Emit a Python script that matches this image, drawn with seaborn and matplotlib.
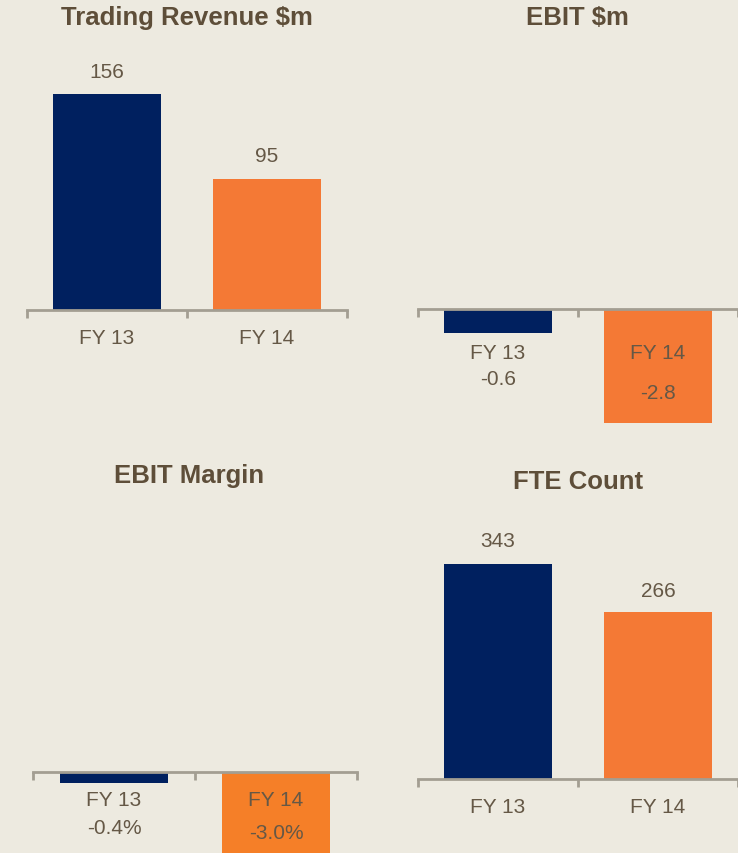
import matplotlib
matplotlib.use("Agg")
import matplotlib.pyplot as plt
import seaborn as sns
import pandas as pd

# ---- data ----
categories = ["FY 13", "FY 14"]
trading_revenue = [156, 95]
ebit = [-0.6, -2.8]
ebit_margin = [-0.4, -3.0]
fte_count = [343, 266]
revenue_labels = ["156", "95"]
ebit_labels = ["-0.6", "-2.8"]
margin_labels = ["-0.4%", "-3.0%"]
fte_labels = ["343", "266"]
titles = ["Trading Revenue $m", "EBIT $m", "EBIT Margin", "FTE Count"]

# ---- style ----
BG = "#EDEAE0"
NAVY = "#00205F"
ORANGE = "#F47935"
ORANGE2 = "#F57F28"
TITLE_C = "#5E4E39"
TEXT_C = "#655846"
AXIS_C = "#A39E92"
W, H = 738, 854

sns.set_theme(style="white")
plt.rcParams["font.family"] = ["Liberation Sans", "DejaVu Sans"]

fig = plt.figure(figsize=(W / 100, H / 100), dpi=100, facecolor=BG)


def panel(vals, labels, title, left, right, top, bottom, zero_px, scale,
          title_xy, label_offsets, tick_pad_px, colors, label_family=None):
    ax = fig.add_axes([left / W, 1 - bottom / H, (right - left) / W, (bottom - top) / H])
    ax.set_facecolor("none")
    df = pd.DataFrame({"cat": categories, "val": vals})
    sns.barplot(data=df, x="cat", y="val", hue="cat", palette=colors,
                width=0.67, saturation=1, legend=False, linewidth=0, ax=ax)
    ax.set_axisbelow(False)
    ax.xaxis.set_zorder(3)
    ax.set_xlim(-0.5, 1.5)
    ax.set_ylim(-(bottom - zero_px) / scale, (zero_px - top) / scale)
    for s in ["top", "left", "right"]:
        ax.spines[s].set_visible(False)
    ax.spines["bottom"].set_position(("data", 0))
    ax.spines["bottom"].set_color(AXIS_C)
    ax.spines["bottom"].set_linewidth(2)
    ax.spines["bottom"].set_zorder(3)
    ax.set_yticks([])
    ax.set_xticks([-0.5, 0.5, 1.5])
    ax.set_xticklabels(["", "", ""])
    ax.set_xticks([0, 1], minor=True)
    ax.set_xticklabels(categories, minor=True)
    ax.tick_params(axis="x", which="major", direction="out", length=6, width=2,
                   color=AXIS_C, bottom=True)
    ax.tick_params(axis="x", which="minor", length=0, pad=tick_pad_px * 0.72,
                   labelsize=15, labelcolor=TEXT_C, bottom=True)
    ax.set_xlabel("")
    ax.set_ylabel("")
    fam = label_family if label_family else ["Liberation Sans", "DejaVu Sans"]
    for i, (v, lab, dy) in enumerate(zip(vals, labels, label_offsets)):
        ax.annotate(lab, xy=(i, v), xytext=(0, dy), textcoords="offset pixels",
                    ha="center", va="center", fontsize=15, color=TEXT_C,
                    family=fam, annotation_clip=False, zorder=4)
    fig.text(title_xy[0] / W, 1 - title_xy[1] / H, title, ha="center", va="center",
             fontsize=18.5, fontweight="bold", color=TITLE_C)
    return ax


panel(trading_revenue, revenue_labels, titles[0], 27, 347, 40, 440, 311, 1.383,
      (187, 18), [23, 23], 18, [NAVY, ORANGE])
panel(ebit, ebit_labels, titles[1], 418, 738, 40, 440, 310, 40.6,
      (577, 18), [-45, 30], 34, [NAVY, ORANGE])
panel(ebit_margin, margin_labels, titles[2], 33, 357, 460, 854, 773, 27.5,
      (189, 476), [-45, 22], 18, [NAVY, ORANGE2],
      label_family=["Liberation Sans Narrow", "Liberation Sans", "DejaVu Sans"])
panel(fte_count, fte_labels, titles[3], 418, 738, 460, 854, 780, 0.627,
      (578, 482), [23, 22], 18, [NAVY, ORANGE])

fig.savefig("out.png", dpi=100, facecolor=BG)
